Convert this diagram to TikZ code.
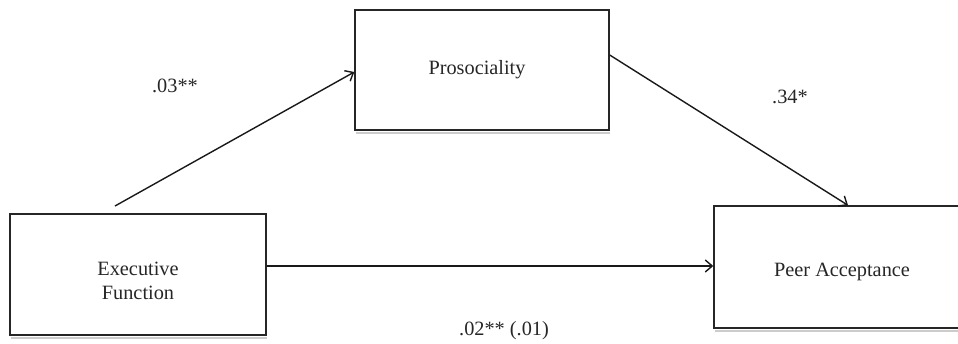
\documentclass[tikz,border=0pt]{standalone}
\usepackage{fontspec}
\setmainfont{Liberation Serif}
\usetikzlibrary{arrows.meta}
\begin{document}
\begin{tikzpicture}[x=1pt,y=-1pt,
  box/.style={draw=black!85,line width=1.4pt,minimum width=#1,minimum height=121pt,inner sep=0pt},
  txt/.style={font=\fontsize{20.3}{24}\selectfont,align=center,text=black!85,inner sep=0pt},
  lbl/.style={font=\fontsize{20.3}{24}\selectfont,text=black!85,inner sep=0pt},
  arr/.style={line width=1.4pt,draw=black!90,-{Straight Barb[length=7pt,width=12pt,line width=1.4pt]}}]
\useasboundingbox (0,0) rectangle (958,343);
\clip (0,0) rectangle (958,343);
% light shadows
\draw[black!20,line width=1.2pt] (11,338) -- (267,338);
\draw[black!20,line width=1.2pt] (356,133) -- (610,133);
\draw[black!20,line width=1.2pt] (715,331) -- (962,331);
\node[box=256pt] (ef) at (138,274.5) {};
\node[box=254pt,minimum height=120pt] (pro) at (482,70) {};
\node[box=248pt,minimum height=122pt] (pa) at (838,267) {};
\node[txt] (eft) at (138,281) {Executive\\Function};
\node[txt] (prot) at (477,70) {Prosociality};
\node[txt] (pat) at (842,272) {Peer Acceptance};
\coordinate (s1) at (115,206);
\draw[arr] (s1) -- (pro.west |- 0,72);
\draw[arr] (pro.east |- 0,55) -- (848,0 |- pa.north);
\draw[arr] (ef.east |- 0,266) -- (pa.west |- 0,266);
\node[lbl] (l1) at (175,86) {.03**};
\node[lbl] (l2) at (790,97) {.34*};
\node[lbl] (l3) at (504,331) {.02** (.01)};
\end{tikzpicture}
\end{document}
